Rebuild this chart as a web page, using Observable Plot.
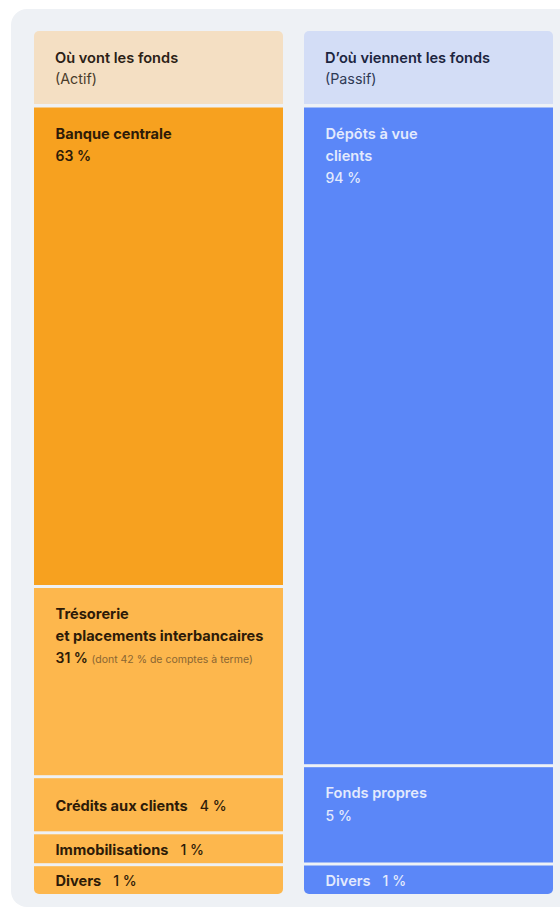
<!DOCTYPE html>
<html><head><meta charset="utf-8">
<script src="https://cdn.jsdelivr.net/npm/d3@7"></script>
<script src="https://cdn.jsdelivr.net/npm/@observablehq/plot@0.6"></script>
<style>
html,body{margin:0;padding:0;background:#fff;overflow:hidden;font-family:Inter,"DejaVu Sans",sans-serif;}
#panel{position:absolute;left:11px;top:9px;width:549px;height:898px;background:#eef1f5;border-radius:16px 0 0 16px;}
.col{position:absolute;top:31px;border-radius:5px;overflow:hidden;}
.head{height:73px;box-sizing:border-box;padding:17px 0 0 21px;}
.head .t{font-size:14.6px;font-weight:600;line-height:20px;white-space:nowrap;}
.head .s{font-size:14.3px;font-weight:400;line-height:21px;}
svg{display:block}
</style></head><body>
<div id="panel"></div>
<div class="col" id="actif" style="left:34px;width:249px"></div>
<div class="col" id="passif" style="left:304px;width:249px"></div>
<script>
// ---- data (bottom of the stack first) ----
const actifTitle = "Où vont les fonds";
const actifSub = "(Actif)";
const actifNames = ["Divers", "Immobilisations", "Crédits aux clients", "Trésorerie\net placements interbancaires", "Banque centrale"];
const actifValues = [1, 1, 4, 31, 63];
const actifNotes = ["", "", "", "(dont 42 % de comptes à terme)", ""];

const passifTitle = "D’où viennent les fonds";
const passifSub = "(Passif)";
const passifNames = ["Divers", "Fonds propres", "Dépôts à vue\nclients"];
const passifValues = [1, 5, 94];
const passifNotes = ["", "", ""];

function table(names, values, notes) {
  return names.map((name, i) => ({name, value: values[i], note: notes[i], pct: values[i] + "\u00a0%"}));
}

function column(el, cfg) {
  const {title, sub, data, fills, headFill, headColor, subColor, textColor, noteColor, nameWeight, pctWeight, inlinePctWeight, breaks, width} = cfg;
  const head = document.createElement("div");
  head.className = "head";
  head.style.background = headFill;
  head.innerHTML = `<div class="t" style="color:${headColor}"></div><div class="s" style="color:${subColor}"></div>`;
  head.querySelector(".t").textContent = title;
  head.querySelector(".s").textContent = sub;
  el.appendChild(head);

  const cum = [0, ...d3.cumsum(data, d => d.value)];
  // non-proportional display: piecewise mapping of cumulative values to the column's layout
  const piecewise = d3.scaleLinear().domain(cum).range(breaks);
  const lines = d => d.name.split("\n").length;
  const isTop = d => d.value >= 5;
  const nameSize = 14.6, lh = 22;
  const base = {frameAnchor: "left", textAnchor: "start", fill: textColor, fontFamily: "Inter, sans-serif"};

  function inlineRender(index, scales, values, dimensions, context, next) {
    const g = next(index, scales, values, dimensions, context);
    g.querySelectorAll("text").forEach((t, j) => {
      const d = data[index[j]];
      t.textContent = "";
      const a = document.createElementNS("http://www.w3.org/2000/svg", "tspan");
      a.textContent = d.name;
      const b = document.createElementNS("http://www.w3.org/2000/svg", "tspan");
      b.setAttribute("dx", 12);
      b.setAttribute("font-weight", inlinePctWeight);
      b.setAttribute("font-size", 14);
      b.textContent = d.pct;
      t.append(a, b);
    });
    return g;
  }

  const lineCounts = [1, 2];
  const plot = Plot.plot({
    width, height: 790, margin: 0,
    x: {axis: null},
    y: {axis: null, type: "linear", transform: piecewise, domain: [breaks[0], breaks[breaks.length - 1]], range: [breaks[0], breaks[breaks.length - 1]]},
    color: {domain: data.map(d => d.name), range: fills},
    style: {background: "transparent", overflow: "visible"},
    marks: [
      Plot.rectY(data, Plot.stackY({y: "value", fill: "name", insetTop: 1.5, insetBottom: 1.5})),
      Plot.text(data, Plot.filter(isTop, Plot.stackY2({y: "value", text: "name", ...base,
        dx: 21, dy: 32.3 - 0.71 * lh, lineAnchor: "top", lineHeight: lh / nameSize, fontSize: nameSize, fontWeight: nameWeight}))),
      ...lineCounts.map(n => Plot.text(data, Plot.filter(d => isTop(d) && lines(d) === n,
        Plot.stackY2({y: "value", text: "pct", ...base, dx: 21, dy: 22.5 + lh * n, lineAnchor: "top",
          fontSize: 14, fontWeight: pctWeight})))),
      ...lineCounts.map(n => Plot.text(data, Plot.filter(d => isTop(d) && d.note && lines(d) === n,
        Plot.stackY2({y: "value", text: "note", ...base, fill: noteColor, dx: 57, dy: 32 + lh * n - 0.71 * 10.5,
          lineAnchor: "top", fontSize: 10.5, fontWeight: 400})))),
      Plot.text(data, Plot.filter(d => !isTop(d), Plot.stackY({y: "value", text: "name", ...base,
        dx: 21, dy: 0.8, fontSize: nameSize, fontWeight: nameWeight, render: inlineRender})))
    ]
  });
  el.appendChild(plot);
}

column(document.getElementById("actif"), {
  title: actifTitle, sub: actifSub,
  data: table(actifNames, actifValues, actifNotes),
  fills: ["#fdb74d", "#fdb74d", "#fdb74d", "#fdb74d", "#f7a11f"],
  headFill: "#f4dfc3", headColor: "#2b2116", subColor: "#4a3c2b",
  textColor: "#2d1b08", noteColor: "#8a6633", nameWeight: 700, pctWeight: 600, inlinePctWeight: 500,
  breaks: [791.5, 760.7, 728.8, 672.7, 482.5, 2],
  width: 249
});

column(document.getElementById("passif"), {
  title: passifTitle, sub: passifSub,
  data: table(passifNames, passifValues, passifNotes),
  fills: ["#5b87f8", "#5b87f8", "#5b87f8"],
  headFill: "#d3ddf6", headColor: "#1c2540", subColor: "#2f3a55",
  textColor: "#e3eafd", noteColor: "#e3eafd", nameWeight: 600, pctWeight: 500, inlinePctWeight: 500,
  breaks: [791.5, 760, 661.7, 2],
  width: 249
});
</script>
</body></html>
